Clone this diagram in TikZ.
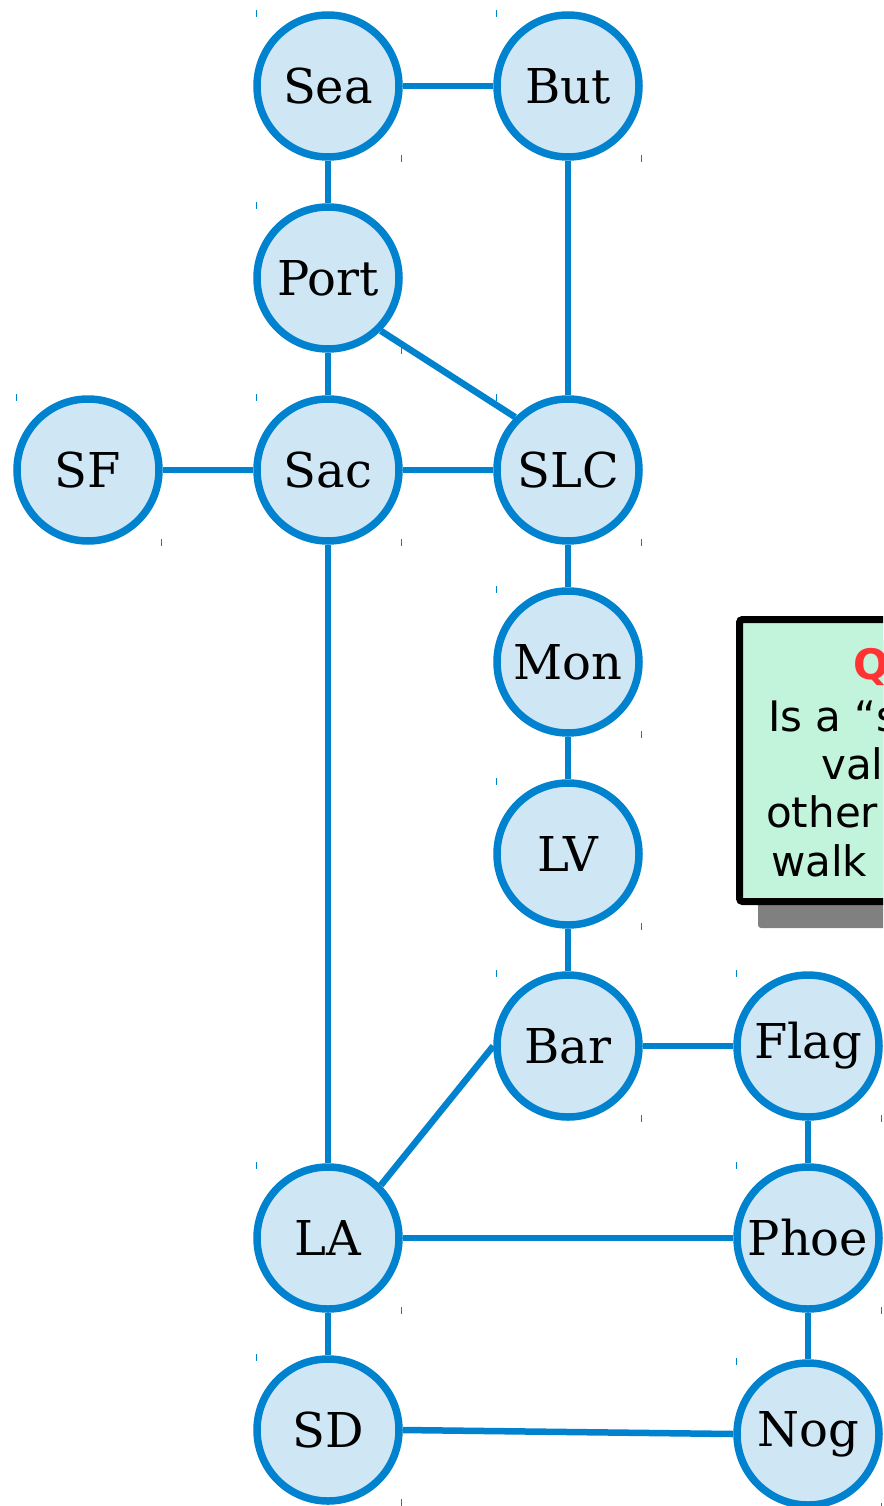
\documentclass[tikz,border=0pt]{standalone}
\usepackage{fontspec}
\setmainfont{DejaVu Serif}
\newfontfamily\calloutfont{DejaVu Sans}
\definecolor{edgeblue}{RGB}{0,130,206}
\definecolor{nodefill}{RGB}{207,230,244}
\definecolor{notegreen}{RGB}{194,244,220}
\definecolor{notered}{RGB}{255,51,51}
\definecolor{shadowgray}{RGB}{128,128,128}
\begin{document}
\begin{tikzpicture}[x=1pt,y=-1pt,
  city/.style={circle, draw=edgeblue, fill=nodefill, line width=7.5pt, minimum size=142pt, inner sep=0pt, font=\fontsize{48}{56}\selectfont},
  road/.style={draw=edgeblue, line width=6.5pt},
  tickmark/.style={draw=edgeblue, line width=1pt},
  notetext/.style={anchor=base west, inner sep=0pt, font=\calloutfont\fontsize{42}{48}\selectfont}]
\useasboundingbox (0,0) rectangle (883,1506);
\clip (0,0) rectangle (883,1506);

% callout
\fill[shadowgray, rounded corners=3pt] (758,640) rectangle (1130,928);
\draw[black, fill=notegreen, line width=7pt, rounded corners=3pt] (739.5,619.5) rectangle (1110,901.5);
\node[notetext, text=notered, font=\calloutfont\bfseries\fontsize{42}{48}\selectfont] (qlabel) at (853,679) {Q};
\node[notetext] (line1) at (768,731) {Is a “s};
\node[notetext] (line2) at (821,779) {val};
\node[notetext] (line3) at (766,827) {other};
\node[notetext] (line4) at (771,876) {walk};

% nodes
\node[city] (Sea)  at (328,86)   {Sea};
\node[city] (But)  at (568,86)   {But};
\node[city] (Port) at (328,278)  {Port};
\node[city] (SF)   at (88,470)   {SF};
\node[city] (Sac)  at (328,470)  {Sac};
\node[city] (SLC)  at (568,470)  {SLC};
\node[city] (Mon)  at (568,662)  {Mon};
\node[city] (LV)   at (568,854)  {LV};
\node[city] (Bar)  at (568,1046) {Bar};
\node[city] (Flag) at (808,1046) {Flag};
\node[city] (LA)   at (328,1238) {LA};
\node[city] (Phoe) at (808,1238) {Phoe};
\node[city] (SD)   at (328,1430) {SD};
\node[city] (Nog)  at (808,1434) {Nog};

% ticks
\foreach \n in {Sea,But,Port,SF,Sac,SLC,Mon,LV,Bar,Flag,LA,Phoe,SD,Nog}{
  \draw[tickmark] ([shift={(-72,-76)}]\n.center) -- ++(0,7);
  \draw[tickmark] ([shift={(73,69)}]\n.center) -- ++(0,7);
}

% edges
\draw[road] (Sea) -- (But);
\draw[road] (Sea) -- (Port);
\draw[road] (But) -- (SLC);
\draw[road] (Port) -- (Sac);
\draw[road] (Port.south east) -- (SLC.north west);
\draw[road] (SF) -- (Sac);
\draw[road] (Sac) -- (SLC);
\draw[road] (Sac) -- (LA);
\draw[road] (SLC) -- (Mon);
\draw[road] (Mon) -- (LV);
\draw[road] (LV) -- (Bar);
\draw[road] (Bar) -- (Flag);
\draw[road] (LA.north east) -- (Bar.west);
\draw[road] (Flag) -- (Phoe);
\draw[road] (LA) -- (Phoe);
\draw[road] (LA) -- (SD);
\draw[road] (Phoe) -- (Nog);
\draw[road] (SD.east) -- (Nog.west);
\end{tikzpicture}
\end{document}
